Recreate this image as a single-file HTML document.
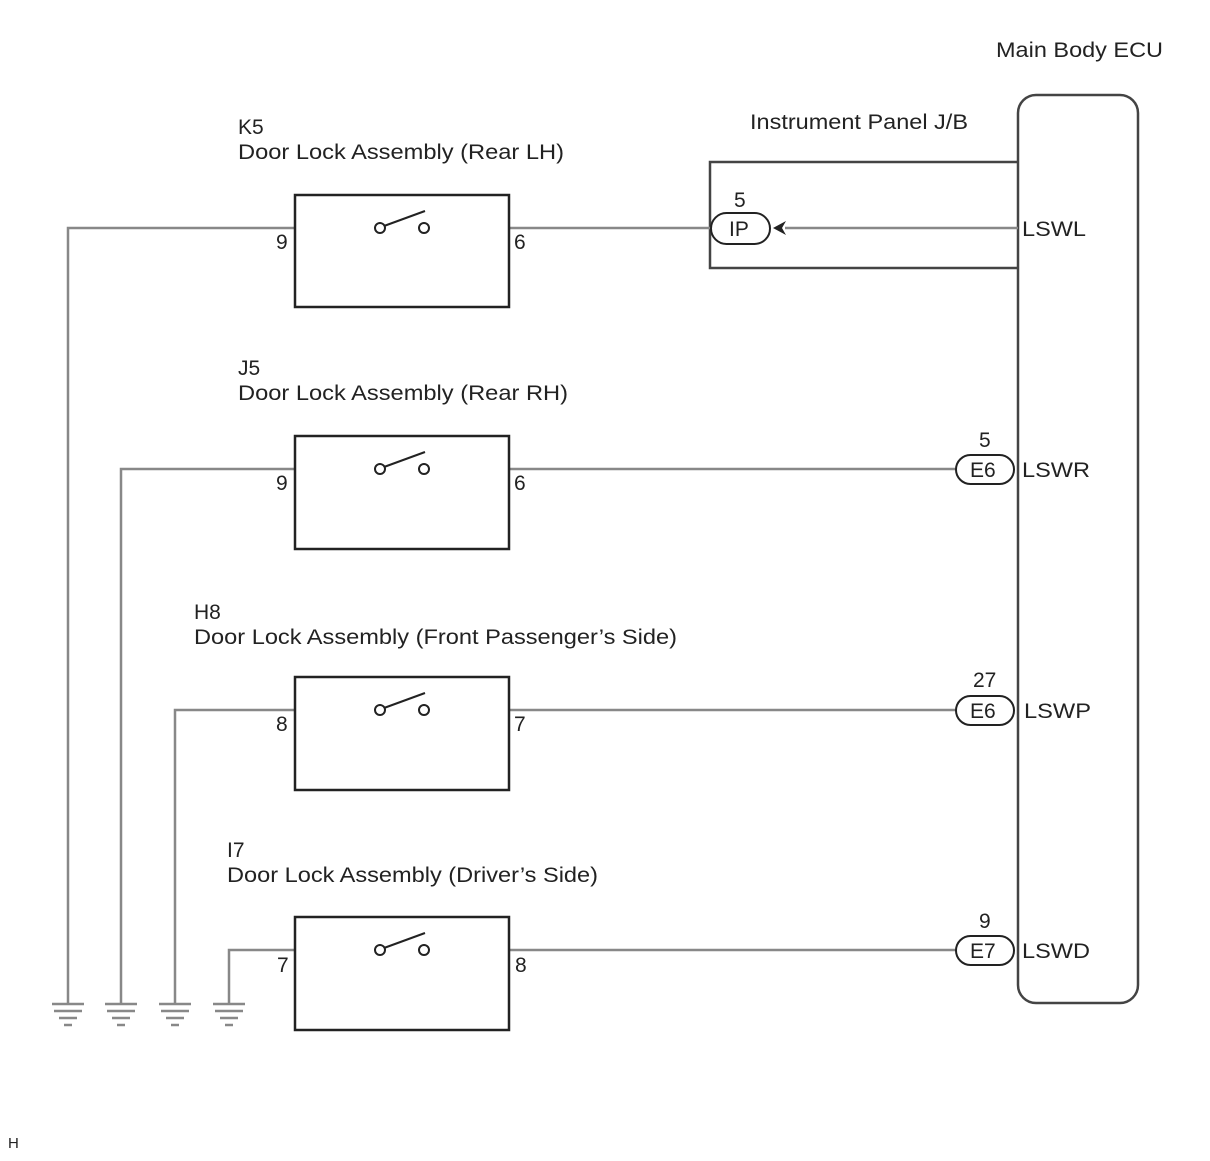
<!DOCTYPE html>
<html><head><style>body{margin:0;background:#fff}</style></head><body>
<svg width="1210" height="1156" xmlns="http://www.w3.org/2000/svg" font-family="Liberation Sans, sans-serif" font-size="21" fill="#222">
<rect width="1210" height="1156" fill="#fff"/>
<text x="996" y="57" textLength="167" lengthAdjust="spacingAndGlyphs">Main Body ECU</text>
<text x="750" y="129" textLength="218" lengthAdjust="spacingAndGlyphs">Instrument Panel J/B</text>
<rect x="1018" y="95" width="120" height="908" rx="18" fill="none" stroke="#444" stroke-width="2.5"/>
<polyline points="1018,162 710,162 710,268 1018,268" fill="none" stroke="#444" stroke-width="2.5"/>
<g stroke="#888" stroke-width="2.5" fill="none">
<polyline points="68,1003 68,228 295,228"/><line x1="295" y1="228" x2="375" y2="228"/><line x1="429" y1="228" x2="711" y2="228"/><line x1="785" y1="228" x2="1018" y2="228"/>
<polyline points="121,1003 121,469 375,469"/><line x1="429" y1="469" x2="956" y2="469"/>
<polyline points="175,1003 175,710 375,710"/><line x1="429" y1="710" x2="956" y2="710"/>
<polyline points="229,1003 229,950 375,950"/><line x1="429" y1="950" x2="956" y2="950"/>
</g>
<g stroke="#888" stroke-width="2.5">
<g id="gnd"><line x1="52" y1="1004" x2="84" y2="1004"/><line x1="54" y1="1011" x2="82" y2="1011"/><line x1="59" y1="1018" x2="77" y2="1018"/><line x1="64" y1="1025" x2="72" y2="1025"/></g>
<use href="#gnd" x="53"/><use href="#gnd" x="107"/><use href="#gnd" x="161"/>
</g>
<g fill="#fff" stroke="#222" stroke-width="2.5">
<rect x="295" y="195" width="214" height="112"/>
<rect x="295" y="436" width="214" height="113"/>
<rect x="295" y="677" width="214" height="113"/>
<rect x="295" y="917" width="214" height="113"/>
</g>
<g stroke="#222" stroke-width="2" fill="#fff">
<g id="sw"><line x1="384" y1="226" x2="425" y2="211"/><circle cx="380" cy="228" r="5"/><circle cx="424" cy="228" r="5"/></g>
<use href="#sw" y="241"/><use href="#sw" y="482"/><use href="#sw" y="722"/>
<rect x="711" y="213" width="59" height="31" rx="15.5"/>
<rect x="956" y="455" width="58" height="29" rx="14.5"/>
<rect x="956" y="696" width="58" height="29" rx="14.5"/>
<rect x="956" y="936" width="58" height="29" rx="14.5"/>
</g>
<path d="M773,228 L786,221 L782,228 L786,235 Z" fill="#222"/>
<text x="729" y="236">IP</text><text x="734" y="207">5</text>
<text x="970" y="477">E6</text><text x="979" y="447">5</text>
<text x="970" y="718">E6</text><text x="973" y="687">27</text>
<text x="970" y="958">E7</text><text x="979" y="928">9</text>
<text x="1022" y="236" textLength="64" lengthAdjust="spacingAndGlyphs">LSWL</text><text x="1022" y="477" textLength="68" lengthAdjust="spacingAndGlyphs">LSWR</text><text x="1024" y="718" textLength="67" lengthAdjust="spacingAndGlyphs">LSWP</text><text x="1022" y="958" textLength="68" lengthAdjust="spacingAndGlyphs">LSWD</text>
<text x="238" y="134">K5</text><text x="238" y="159" textLength="326" lengthAdjust="spacingAndGlyphs">Door Lock Assembly (Rear LH)</text>
<text x="238" y="375">J5</text><text x="238" y="400" textLength="330" lengthAdjust="spacingAndGlyphs">Door Lock Assembly (Rear RH)</text>
<text x="194" y="619">H8</text><text x="194" y="644" textLength="483" lengthAdjust="spacingAndGlyphs">Door Lock Assembly (Front Passenger’s Side)</text>
<text x="227" y="857">I7</text><text x="227" y="882" textLength="371" lengthAdjust="spacingAndGlyphs">Door Lock Assembly (Driver’s Side)</text>
<text x="276" y="249">9</text><text x="514" y="249">6</text>
<text x="276" y="490">9</text><text x="514" y="490">6</text>
<text x="276" y="731">8</text><text x="514" y="731">7</text>
<text x="277" y="972">7</text><text x="515" y="972">8</text>
<text x="8" y="1148" font-size="15">H</text>
</svg>
</body></html>
